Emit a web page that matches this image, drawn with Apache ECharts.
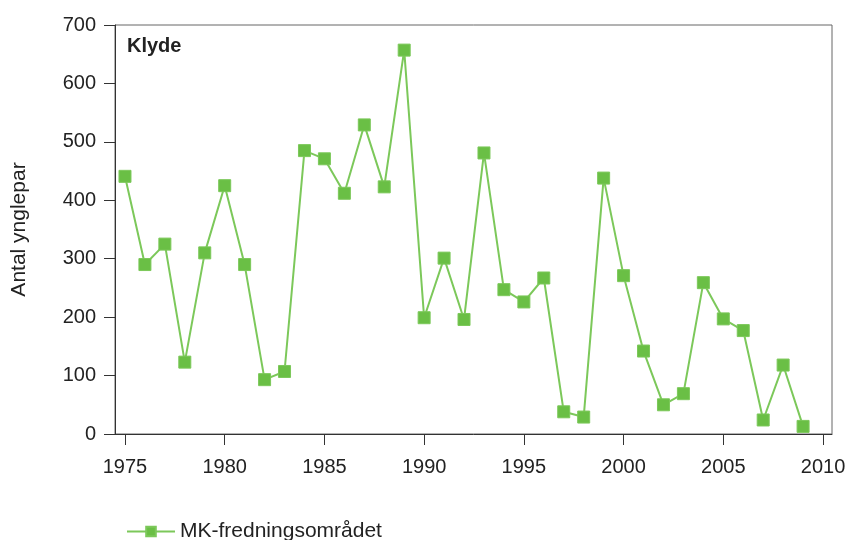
<!DOCTYPE html>
<html>
<head>
<meta charset="utf-8">
<script src="https://cdn.jsdelivr.net/npm/echarts@6/dist/echarts.min.js"></script>
<style>html,body{margin:0;padding:0;background:#fff;}#c{width:848px;height:540px;}</style>
</head>
<body>
<div id="c"></div>
<script>
const years = [1975,1976,1977,1978,1979,1980,1981,1982,1983,1984,1985,1986,1987,1988,1989,1990,1991,1992,1993,1994,1995,1996,1997,1998,1999,2000,2001,2002,2003,2004,2005,2006,2007,2008,2009];
const pairs = [441,290,325,123,310,425,290,93,107,485,471,412,529,423,657,199,301,196,481,247,226,267,38,29,438,271,142,50,69,259,197,177,24,118,13];
const xTicks = [1975,1980,1985,1990,1995,2000,2005,2010];
const seriesName = 'MK-fredningsområdet';
const panelTitle = 'Klyde';
const yName = 'Antal ynglepar';

const font = 'Liberation Sans, Arial, Helvetica, sans-serif';
const chart = echarts.init(document.getElementById('c'), null, {renderer: 'canvas'});
chart.setOption({
  backgroundColor: '#fff',
  animation: false,
  title: {
    text: panelTitle, left: 122, top: 31,
    textStyle: {fontFamily: font, fontSize: 20, fontWeight: 'bold', color: '#222'}
  },
  legend: {
    left: 121, top: 516,
    itemWidth: 48, itemHeight: 12, itemGap: 10,
    textStyle: {fontFamily: font, fontSize: 21, color: '#222'},
    data: [seriesName]
  },
  grid: {
    left: 115, right: 16, top: 25, bottom: 106,
    outerBoundsMode: 'none', containLabel: false,
    show: true, borderColor: '#666', borderWidth: 1, backgroundColor: 'transparent'
  },
  xAxis: {
    type: 'value', min: 1974.5, max: 2010.45,
    axisLine: {show: true, lineStyle: {color: '#333', width: 1}},
    axisTick: {show: true, length: 11, lineStyle: {color: '#333'}, customValues: xTicks},
    axisLabel: {margin: 23, fontFamily: font, fontSize: 20, color: '#222', customValues: xTicks, formatter: v => String(v)},
    splitLine: {show: false}
  },
  yAxis: {
    type: 'value', min: 0, max: 700, interval: 100,
    name: yName, nameLocation: 'middle', nameGap: 85,
    nameTextStyle: {fontFamily: font, fontSize: 21, color: '#222'},
    axisLine: {show: true, lineStyle: {color: '#333', width: 1}},
    axisTick: {show: true, length: 11, lineStyle: {color: '#333'}},
    axisLabel: {margin: 19, fontFamily: font, fontSize: 20, color: '#222'},
    splitLine: {show: false}
  },
  series: [{
    name: seriesName,
    type: 'line',
    data: years.map((y, i) => [y, pairs[i]]),
    symbol: 'rect', symbolSize: 12,
    lineStyle: {color: '#7cc85a', width: 2},
    itemStyle: {color: '#6abf45', borderColor: '#7cc85a', borderWidth: 1},
    emphasis: {disabled: true}
  }]
});
</script>
</body>
</html>
